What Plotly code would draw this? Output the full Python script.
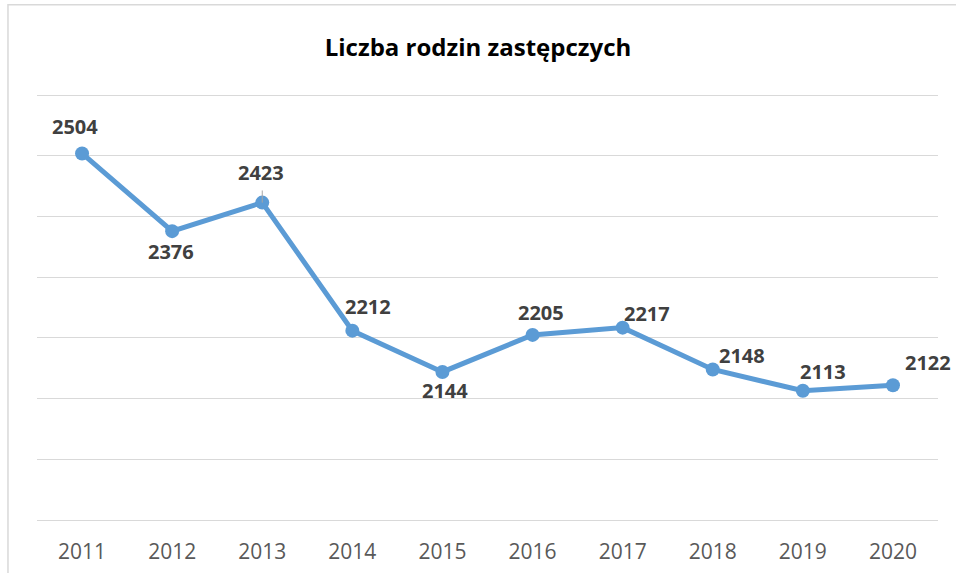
import plotly.graph_objects as go

# Number of foster families per year
years = ["2011", "2012", "2013", "2014", "2015", "2016", "2017", "2018", "2019", "2020"]
families = [2504, 2376, 2423, 2212, 2144, 2205, 2217, 2148, 2113, 2122]

# Pixel offsets of each value label relative to its point
label_dx = [-7, -1, -1, 16, 3, 8, 24, 29, 20, 35]
label_dy = [27, -20, 30, 24, -19, 22, 14, 14, 19, 23]

LINE_BLUE = "#5b9bd5"
GRID = "#d9d9d9"
FONT = "Open Sans"

fig = go.Figure()
fig.add_trace(go.Scatter(
    x=years, y=families, mode="lines+markers",
    line=dict(color=LINE_BLUE, width=5),
    marker=dict(color=LINE_BLUE, size=14),
    hoverinfo="x+y", showlegend=False,
))

# value labels; on a category axis annotations are placed by category index
for i, (y, dx, dy) in enumerate(zip(families, label_dx, label_dy)):
    fig.add_annotation(
        x=i, y=y, text=str(y), showarrow=False,
        xshift=dx, yshift=dy,
        font=dict(family=FONT, size=20, color="#404040", weight="bold"),
    )

# short leader line above the 2013 point
i2013 = years.index("2013")
fig.add_shape(type="line", xref="x", yref="y", x0=i2013, x1=i2013,
              y0=families[i2013], y1=families[i2013] + 20,
              line=dict(color="#a6a6a6", width=1))

# chart frame
fig.add_shape(type="rect", xref="paper", yref="paper",
              x0=-0.0322, y0=-0.3, x1=1.2, y1=1.2094,
              line=dict(color=GRID, width=1.5), layer="below")

fig.update_layout(
    width=956, height=573,
    margin=dict(l=37, r=18, t=94, b=53),
    paper_bgcolor="white", plot_bgcolor="white",
    title=dict(text="<b>Liczba rodzin zastępczych</b>", x=0.5, xanchor="center",
               y=1 - 48 / 573, yanchor="middle",
               font=dict(family=FONT, size=24, color="#000000")),
    xaxis=dict(
        type="category", range=[-0.5, len(years) - 0.5],
        automargin=False,
        showgrid=False, zeroline=False,
        showline=True, linecolor=GRID, linewidth=1.3,
        ticks="", tickfont=dict(family=FONT, size=21, color="#595959"),
        ticklabelstandoff=13,
    ),
    yaxis=dict(
        range=[1900, 2602], dtick=100, tick0=1900,
        automargin=False,
        showgrid=True, gridcolor=GRID, gridwidth=1.3,
        zeroline=False, showticklabels=False, ticks="",
    ),
)

fig.write_html("out.html")
